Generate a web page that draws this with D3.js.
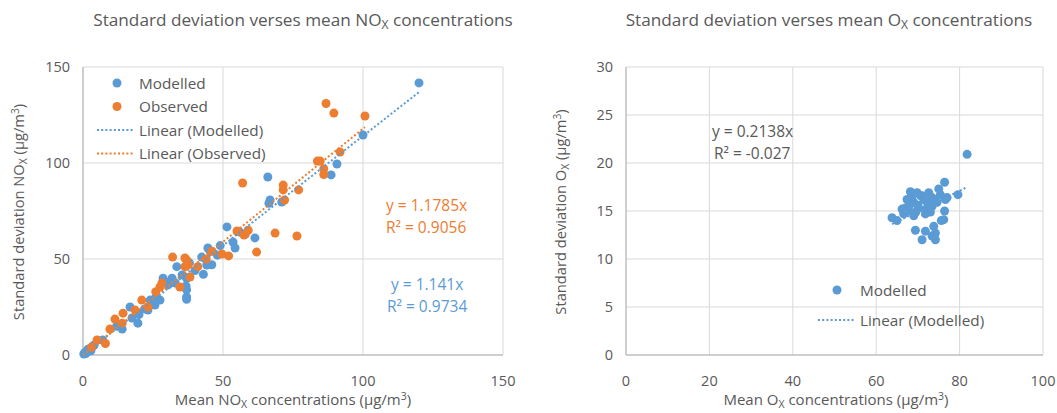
<!DOCTYPE html>
<html>
<head>
<meta charset="utf-8">
<script src="https://cdn.jsdelivr.net/npm/d3@7"></script>
<style>
body { margin: 0; background: #fff; }
text { font-family: "Open Sans", "Noto Sans", sans-serif; fill: #595959; }
</style>
</head>
<body>
<svg id="chart" width="1057" height="413"></svg>
<script>
// NOx chart data [mean, std dev]
var noxModelled = [
  [0.3,0.5],[0.6,1.2],[1,0.8],[1.2,2],[1.5,1.5],[2,2.5],[2.4,3.2],[3,3.8],[3.5,4.5],[4,5.2],[2.8,2.2],[1.8,3],
  [7,7.8],[12,15],[14,13.5],[16.8,25],[17.5,19.3],[19.6,16.6],[20,21],[22,24],[23.2,23.4],[24,28.6],[25.7,26],
  [26,30],[27.5,28.6],[28.6,40],[29.3,38],[30.4,36.5],[31.8,40],[32.9,37.5],[33.5,46],[35.4,41.7],[37,40],
  [36.8,36],[37,34],[37,30.2],[37,29],[38,48],[40,44],[42.4,51],[43,42],[44.2,46.9],[44.6,55.7],[45.4,54],
  [46,47],[48,52],[49,57],[51.4,66.7],[53.6,58.8],[54.3,55.7],[56,64],[61.4,61],[66,92.7],[66.8,80.7],
  [66.4,79],[71,79.7],[88.6,93.8],[90.7,99.5],[100,114.6],[120,141.7]
];
var noxObserved = [
  [3,4],[5,7.8],[8,6],[9.6,13.5],[11.4,18.7],[14,16.6],[14.3,21.8],[18.6,23.4],[21,28.6],[23.2,25],[26,33],
  [27.5,35.4],[28.2,37.5],[32,51],[34.6,35.4],[36.4,50.5],[37.5,47],[37,49.5],[36.4,46],[38.2,40.6],[41,46],
  [44,50],[46,54],[49.6,52.6],[52,51.6],[55,64.6],[57,89.6],[57.5,62.5],[58,63],[59,65],[62,53.6],[68.6,63.5],
  [76.4,62],[71.5,88.5],[71.5,86],[72,80.7],[77,86],[83.7,101],[84.7,101],[86,97],[86,94],[86.8,131],
  [89.6,126],[91.8,105.7],[100.7,124.5]
];
var noxSlopes = [1.141, 1.1785];
var noxR2 = ["0.9734", "0.9056"];
var noxTicks = [0, 50, 100, 150];

// Ox chart data
var oxModelled = [
  [81.8,20.9],[76.4,18.0],[75,17.3],[68.2,17.0],[69.8,16.9],[71,16.6],[73.4,16.4],[76.6,16.2],[79.6,16.7],
  [67.4,16.2],[69,15.9],[72.2,15.9],[74.6,15.9],[67,15.3],[66.2,15.2],[67.8,15.0],[70.2,15.3],[73.4,15.5],
  [76.4,15.0],[69,14.5],[71.8,14.7],[63.8,14.3],[65,14.0],[76.2,14.1],[75.6,14.0],[71.8,12.9],[69.4,13.0],
  [73.8,13.4],[74.2,12.7],[71,12.0],[74.2,12.0],[73.4,12.4],[70.6,16.6],[72.6,16.9],[75.4,16.7],[68.5,16.4],
  [70,15.6],[72,15.2],[74,16.2],[68,15.6],[71.4,16.2],[73,14.9],[66.6,14.7],[77,16.4],[69.5,14.9]
];
var oxSlope = 0.2138;
var oxR2 = "-0.027";
var oxXTicks = [0, 20, 40, 60, 80, 100];
var oxYTicks = [0, 5, 10, 15, 20, 25, 30];

var blue = "#5b9bd5", orange = "#ed7d31";
var svg = d3.select("#chart");

function drawFrame(x, y, xTicks, yTicks) {
  var g = svg.append("g");
  g.selectAll(".hg").data(yTicks.slice(1)).enter().append("line")
    .attr("x1", x.range()[0]).attr("x2", x.range()[1])
    .attr("y1", function(d) { return y(d); }).attr("y2", function(d) { return y(d); })
    .attr("stroke", "#d9d9d9").attr("stroke-width", 1);
  g.selectAll(".vg").data(xTicks.slice(1)).enter().append("line")
    .attr("y1", y.range()[0]).attr("y2", y.range()[1])
    .attr("x1", function(d) { return x(d); }).attr("x2", function(d) { return x(d); })
    .attr("stroke", "#d9d9d9").attr("stroke-width", 1);
  // axis lines
  g.append("line").attr("x1", x.range()[0]).attr("x2", x.range()[0])
    .attr("y1", y.range()[0]).attr("y2", y.range()[1])
    .attr("stroke", "#bfbfbf").attr("stroke-width", 1.5);
  g.append("line").attr("x1", x.range()[0]).attr("x2", x.range()[1])
    .attr("y1", y.range()[0]).attr("y2", y.range()[0])
    .attr("stroke", "#bfbfbf").attr("stroke-width", 1.5);
  g.selectAll(".xt").data(xTicks).enter().append("text")
    .attr("x", function(d) { return x(d); }).attr("y", 386)
    .attr("text-anchor", "middle").style("font-size", "14.5px").text(function(d) { return d; });
  g.selectAll(".yt").data(yTicks).enter().append("text")
    .attr("x", x.range()[0] - 13).attr("y", function(d) { return y(d) + 5; })
    .attr("text-anchor", "end").style("font-size", "14.5px").text(function(d) { return d; });
}

function label(x, y, parts, size, anchor, rotate) {
  var t = svg.append("text").attr("text-anchor", anchor || "middle").style("font-size", size + "px");
  if (rotate) t.attr("transform", "translate(" + x + "," + y + ") rotate(-90)");
  else t.attr("x", x).attr("y", y);
  parts.forEach(function(p) {
    var s = t.append("tspan").text(p[0]);
    if (p[1] === "sub") s.attr("dy", 3).style("font-size", (size * 0.7) + "px");
    if (p[1] === "sup") s.attr("dy", -5).style("font-size", (size * 0.7) + "px");
    if (p[1] === "back") s.attr("dy", -3);
    if (p[1] === "down") s.attr("dy", 5);
  });
  return t;
}

function trend(x, y, slope, x0, x1, color) {
  svg.append("path")
    .attr("d", d3.line()([[x(x0), y(slope * x0)], [x(x1), y(slope * x1)]]))
    .attr("stroke", color).attr("stroke-width", 2).attr("stroke-dasharray", "2,2.2").attr("fill", "none");
}

function dots(x, y, data, color) {
  svg.append("g").selectAll("circle").data(data).enter().append("circle")
    .attr("cx", function(d) { return x(d[0]); }).attr("cy", function(d) { return y(d[1]); })
    .attr("r", 4.5).attr("fill", color);
}

// ---- left chart: NOx
var x1 = d3.scaleLinear().domain([0, 150]).range([83, 503]);
var y1 = d3.scaleLinear().domain([0, 150]).range([355, 67]);
drawFrame(x1, y1, noxTicks, noxTicks);
dots(x1, y1, noxModelled, blue);
dots(x1, y1, noxObserved, orange);
trend(x1, y1, noxSlopes[0], 0, d3.max(noxModelled, function(d) { return d[0]; }), blue);
trend(x1, y1, noxSlopes[1], 0, d3.max(noxObserved, function(d) { return d[0]; }), orange);

label(303, 26, [["Standard deviation verses mean NO"], ["X", "sub"], [" concentrations", "back"]], 17.2);
label(293, 405, [["Mean NO"], ["X", "sub"], [" concentrations (µg/m", "back"], ["3", "sup"], [")", "down"]], 15);
label(24, 212, [["Standard deviation NO"], ["X", "sub"], [" (µg/m", "back"], ["3", "sup"], [")", "down"]], 14.7, "middle", true);

label(386, 211, [["y = " + noxSlopes[1] + "x"]], 15.5, "start").style("fill", orange);
label(386, 233, [["R² = " + noxR2[1]]], 15.5, "start").style("fill", orange);
label(391, 290, [["y = " + noxSlopes[0] + "x"]], 15.5, "start").style("fill", blue);
label(387, 312, [["R² = " + noxR2[0]]], 15.5, "start").style("fill", blue);

// legend
var legend1 = [["Modelled", blue, "dot"], ["Observed", orange, "dot"], ["Linear (Modelled)", blue, "line"], ["Linear (Observed)", orange, "line"]];
legend1.forEach(function(d, i) {
  var ly = 83 + i * 23.5;
  if (d[2] === "dot") svg.append("circle").attr("cx", 117).attr("cy", ly).attr("r", 4.5).attr("fill", d[1]);
  else svg.append("line").attr("x1", 97).attr("x2", 134).attr("y1", ly).attr("y2", ly)
    .attr("stroke", d[1]).attr("stroke-width", 2).attr("stroke-dasharray", "2,2.2");
  svg.append("text").attr("x", 139).attr("y", ly + 5.5).style("font-size", "15.3px").text(d[0]);
});

// ---- right chart: Ox
var x2 = d3.scaleLinear().domain([0, 100]).range([626, 1043]);
var y2 = d3.scaleLinear().domain([0, 30]).range([355, 67]);
drawFrame(x2, y2, oxXTicks, oxYTicks);
dots(x2, y2, oxModelled, blue);
trend(x2, y2, oxSlope, d3.min(oxModelled, function(d) { return d[0]; }), d3.max(oxModelled, function(d) { return d[0]; }), blue);

label(829, 26, [["Standard deviation verses mean O"], ["X", "sub"], [" concentrations", "back"]], 17.2);
label(836, 405, [["Mean O"], ["X", "sub"], [" concentrations (µg/m", "back"], ["3", "sup"], [")", "down"]], 15);
label(566, 212, [["Standard deviation O"], ["X", "sub"], [" (µg/m", "back"], ["3", "sup"], [")", "down"]], 14.7, "middle", true);

label(712, 137, [["y = " + oxSlope + "x"]], 15.5, "start");
label(714, 159, [["R² = " + oxR2]], 15.5, "start");

svg.append("circle").attr("cx", 837).attr("cy", 290).attr("r", 4.5).attr("fill", blue);
svg.append("text").attr("x", 860).attr("y", 295.5).style("font-size", "15.3px").text("Modelled");
svg.append("line").attr("x1", 818).attr("x2", 855).attr("y1", 320).attr("y2", 320)
  .attr("stroke", blue).attr("stroke-width", 2).attr("stroke-dasharray", "2,2.2");
svg.append("text").attr("x", 860).attr("y", 325.5).style("font-size", "15.3px").text("Linear (Modelled)");
</script>
</body>
</html>
